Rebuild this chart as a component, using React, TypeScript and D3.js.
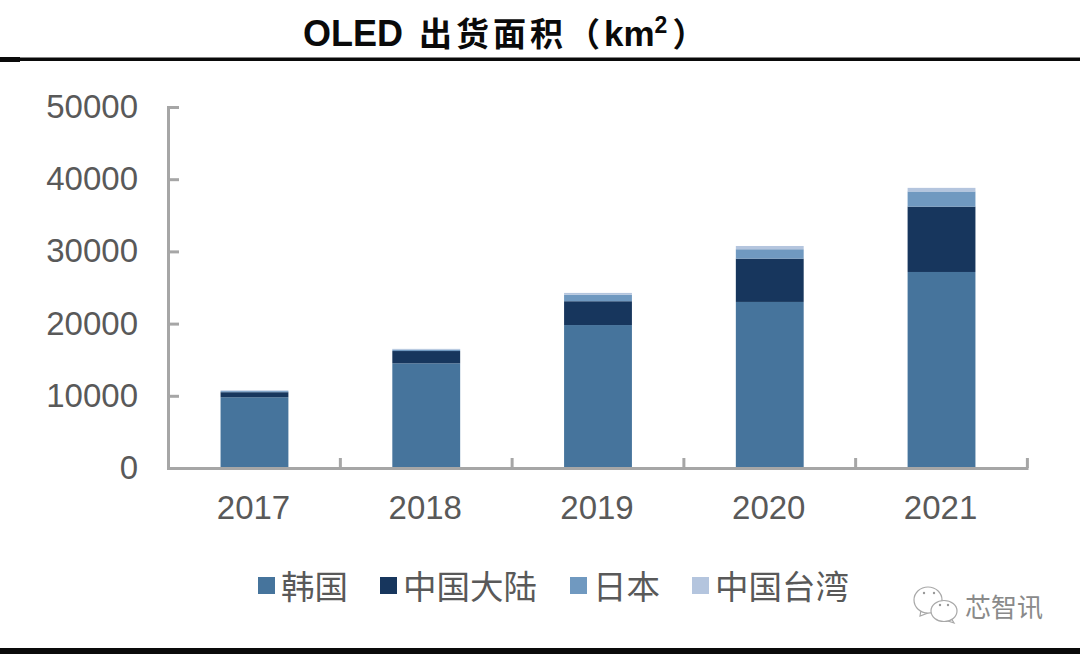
import React, { useEffect, useRef } from "react";
import * as d3 from "d3";

const years = ["2017", "2018", "2019", "2020", "2021"];
const seriesNames = ["韩国", "中国大陆", "日本", "中国台湾"];
const korea = [9800, 14500, 19800, 23000, 27150];
const mainland = [700, 1700, 3300, 6000, 9050];
const japan = [150, 200, 900, 1300, 2100];
const taiwan = [100, 100, 250, 450, 500];
const yTicks = [0, 10000, 20000, 30000, 40000, 50000];
const colors = ["#46749c", "#17365d", "#7099c0", "#b4c5de"];

const SANS = "'Liberation Sans', Arial, sans-serif";
const CJK = "'Noto Sans CJK SC', sans-serif";

const App: React.FC = () => {
  const svgRef = useRef<SVGSVGElement | null>(null);

  useEffect(() => {
    document.body.style.margin = "0";
    if (!svgRef.current) return;
    const svg = d3.select(svgRef.current);
    svg.selectAll("*").remove(); // Clear previous content

    const x = d3
      .scaleBand()
      .domain(years)
      .range([168, 1028])
      .paddingInner(0.605)
      .paddingOuter(0.306);
    const y = d3.scaleLinear().domain([0, 50000]).range([468, 107]);

    const rows = years.map((year, i) => ({
      year,
      [seriesNames[0]]: korea[i],
      [seriesNames[1]]: mainland[i],
      [seriesNames[2]]: japan[i],
      [seriesNames[3]]: taiwan[i],
    }));
    const stacked = d3.stack<any>().keys(seriesNames)(rows);

    // Title and rules
    const title = svg
      .append("text")
      .attr("x", 303)
      .attr("y", 46)
      .attr("fill", "#0a0a0a")
      .attr("font-family", SANS)
      .attr("font-weight", 700)
      .attr("font-size", 36);
    title.append("tspan").text("OLED ");
    title
      .append("tspan")
      .attr("dx", 6)
      .attr("font-family", CJK)
      .attr("font-size", 33)
      .attr("letter-spacing", 4)
      .text("出货面积（");
    title.append("tspan").attr("font-size", 35).text("km");
    title
      .append("tspan")
      .attr("font-size", 23)
      .attr("dy", -13)
      .text("2");
    title
      .append("tspan")
      .attr("dx", 5)
      .attr("dy", 13)
      .attr("font-family", CJK)
      .attr("font-size", 33)
      .text("）");

    svg.append("rect").attr("x", 0).attr("y", 57.5).attr("width", 1080).attr("height", 3.5).attr("fill", "#0a0a0a");
    svg.append("rect").attr("x", 0).attr("y", 57).attr("width", 20).attr("height", 5).attr("fill", "#0a0a0a");
    svg.append("rect").attr("x", 0).attr("y", 648).attr("width", 1080).attr("height", 6).attr("fill", "#0a0a0a");

    // Bars
    svg
      .append("g")
      .selectAll("g")
      .data(stacked)
      .enter()
      .append("g")
      .attr("fill", (_, i) => colors[i])
      .selectAll("rect")
      .data((d) => d)
      .enter()
      .append("rect")
      .attr("x", (d) => x(d.data.year)!)
      .attr("y", (d) => y(d[1]))
      .attr("width", x.bandwidth())
      .attr("height", (d) => y(d[0]) - y(d[1]));

    // Axes
    const axisColor = "#a6a6a6";
    const yAxis = svg
      .append("g")
      .attr("transform", "translate(168,0)")
      .call(d3.axisRight(y).tickValues(yTicks).tickSize(11).tickFormat((d) => String(d)));
    yAxis.select(".domain").attr("stroke", axisColor).attr("stroke-width", 3);
    yAxis.selectAll(".tick line").attr("stroke", axisColor).attr("stroke-width", 3);
    yAxis
      .selectAll(".tick text")
      .attr("x", -30)
      .attr("dy", "0.32em")
      .attr("text-anchor", "end")
      .attr("fill", "#595959")
      .attr("font-family", SANS)
      .attr("font-size", 33);

    const step = x.step();
    const xAxis = svg
      .append("g")
      .attr("transform", "translate(0,468)")
      .call(d3.axisBottom(x).tickSize(0).tickPadding(28));
    xAxis.select(".domain").attr("stroke", axisColor).attr("stroke-width", 3);
    xAxis
      .selectAll(".tick text")
      .attr("dx", -1)
      .attr("fill", "#595959")
      .attr("font-family", SANS)
      .attr("font-size", 33);
    svg
      .append("g")
      .selectAll("line")
      .data(years)
      .enter()
      .append("line")
      .attr("x1", (d) => x(d)! + x.bandwidth() / 2 + step / 2)
      .attr("x2", (d) => x(d)! + x.bandwidth() / 2 + step / 2)
      .attr("y1", 468)
      .attr("y2", 458)
      .attr("stroke", axisColor)
      .attr("stroke-width", 3);

    // Legend
    const legendSwatch = [258, 380, 570, 692];
    const legend = svg
      .append("g")
      .selectAll("g")
      .data(seriesNames)
      .enter()
      .append("g")
      .attr("transform", (_, i) => `translate(${legendSwatch[i]},577)`);
    legend
      .append("rect")
      .attr("width", 17)
      .attr("height", 17)
      .attr("fill", (_, i) => colors[i]);
    legend
      .append("text")
      .attr("x", 23)
      .attr("y", 22)
      .attr("fill", "#595959")
      .attr("font-family", CJK)
      .attr("font-size", 33.5)
      .text((d) => d);

    // Watermark: two chat bubbles with eyes, then the account name
    const mark = svg
      .append("g")
      .attr("fill", "#fff")
      .attr("stroke", "#a8a8a8")
      .attr("stroke-width", 1.2);
    mark.append("path").attr("d", "M921 610 L920 616 L928 613 Z");
    mark.append("ellipse").attr("cx", 928).attr("cy", 600).attr("rx", 14).attr("ry", 13);
    mark.append("path").attr("d", "M951 618 L954 623 L945 620 Z");
    mark.append("ellipse").attr("cx", 944).attr("cy", 611).attr("rx", 13).attr("ry", 10.5);
    svg
      .append("g")
      .attr("fill", "#999")
      .selectAll("circle")
      .data([
        [924, 593],
        [934, 593],
        [940, 605],
        [948, 605],
      ])
      .enter()
      .append("circle")
      .attr("cx", (d) => d[0])
      .attr("cy", (d) => d[1])
      .attr("r", 1.2);
    svg
      .append("text")
      .attr("x", 965)
      .attr("y", 617)
      .attr("fill", "#8a8a8a")
      .attr("font-family", CJK)
      .attr("font-size", 26)
      .text("芯智讯");
  }, []);

  return <svg ref={svgRef} width="1080" height="655" style={{ display: "block" }}></svg>;
};

export default App;
